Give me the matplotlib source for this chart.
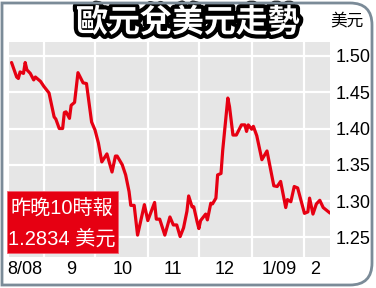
import datetime as dt
import matplotlib
matplotlib.use('Agg')
import matplotlib.pyplot as plt
import matplotlib.patheffects as pe
from matplotlib import font_manager
from matplotlib.path import Path
from matplotlib.patches import PathPatch, Rectangle

# EUR/USD
dates = ['2008-08-13', '2008-08-16', '2008-08-17', '2008-08-18', '2008-08-20', '2008-08-21',
         '2008-08-22', '2008-08-24', '2008-08-26', '2008-08-27', '2008-08-30', '2008-09-01',
         '2008-09-04', '2008-09-07', '2008-09-08', '2008-09-10', '2008-09-12', '2008-09-13',
         '2008-09-14', '2008-09-16', '2008-09-17', '2008-09-19', '2008-09-21', '2008-09-24',
         '2008-09-26', '2008-09-29', '2008-10-01', '2008-10-03', '2008-10-05', '2008-10-08',
         '2008-10-11', '2008-10-13', '2008-10-14', '2008-10-17', '2008-10-19', '2008-10-21',
         '2008-10-22', '2008-10-24', '2008-10-26', '2008-10-30', '2008-11-01', '2008-11-05',
         '2008-11-06', '2008-11-08', '2008-11-11', '2008-11-14', '2008-11-16', '2008-11-18',
         '2008-11-20', '2008-11-22', '2008-11-24', '2008-11-25', '2008-11-27', '2008-11-28',
         '2008-11-30', '2008-12-01', '2008-12-02', '2008-12-05', '2008-12-06', '2008-12-08',
         '2008-12-09', '2008-12-11', '2008-12-12', '2008-12-14', '2008-12-15', '2008-12-18',
         '2008-12-19', '2008-12-21', '2008-12-23', '2008-12-26', '2008-12-28', '2008-12-29',
         '2008-12-30', '2009-01-01', '2009-01-02', '2009-01-04', '2009-01-07', '2009-01-10',
         '2009-01-14', '2009-01-16', '2009-01-18', '2009-01-19', '2009-01-21', '2009-01-22',
         '2009-01-24', '2009-01-26', '2009-01-28', '2009-02-01', '2009-02-03', '2009-02-04',
         '2009-02-06', '2009-02-08', '2009-02-10', '2009-02-12', '2009-02-16']
rates = [1.491, 1.471, 1.469, 1.478, 1.476, 1.491,
         1.481, 1.476, 1.467, 1.471, 1.465, 1.458,
         1.449, 1.416, 1.413, 1.400, 1.400, 1.422,
         1.423, 1.414, 1.432, 1.436, 1.477, 1.463,
         1.462, 1.409, 1.398, 1.380, 1.354, 1.365,
         1.340, 1.362, 1.362, 1.350, 1.336, 1.313,
         1.294, 1.294, 1.253, 1.295, 1.273, 1.298,
         1.275, 1.275, 1.253, 1.278, 1.267, 1.267,
         1.251, 1.263, 1.286, 1.307, 1.292, 1.292,
         1.271, 1.262, 1.273, 1.282, 1.274, 1.297,
         1.296, 1.304, 1.336, 1.338, 1.370, 1.442,
         1.430, 1.391, 1.391, 1.405, 1.405, 1.396,
         1.405, 1.399, 1.403, 1.390, 1.357, 1.369,
         1.321, 1.320, 1.327, 1.315, 1.291, 1.302,
         1.299, 1.320, 1.318, 1.283, 1.285, 1.304,
         1.282, 1.296, 1.301, 1.291, 1.2834]

month_starts = ['2008-09-01', '2008-10-01', '2008-11-01', '2008-12-01', '2009-01-01', '2009-02-01']
label_dates = ['2008-08-21', '2008-09-17', '2008-10-17', '2008-11-16', '2008-12-16', '2009-01-17', '2009-02-07']
month_labels = ['8/08', '9', '10', '11', '12', '1/09', '2']
yticks = [1.25, 1.30, 1.35, 1.40, 1.45, 1.50]
ytick_labels = ['1.25', '1.30', '1.35', '1.40', '1.45', '1.50']

title = '歐元兌美元走勢'
unit = '美元'
note_lines = ['昨晚10時報', '1.2834 美元']

W, H = 376, 288
installed = {f.name for f in font_manager.fontManager.ttflist}
narrow = 'Liberation Sans Narrow' if 'Liberation Sans Narrow' in installed else 'Liberation Sans'
num_font = [narrow, 'Noto Sans CJK TC', 'DejaVu Sans']
cjk_font = ['Noto Sans CJK TC', 'DejaVu Sans']


def d(s):
    return dt.datetime.strptime(s, '%Y-%m-%d')


def fx(x):
    return x / W


def fy(y):
    return 1 - y / H


fig = plt.figure(figsize=(W / 100, H / 100), dpi=100)
fig.patch.set_facecolor('white')

ax = fig.add_axes([fx(9), fy(257), (330 - 9) / W, (257 - 42) / H])
ax.set_facecolor('#e6e6e6')
for s in ax.spines.values():
    s.set_visible(False)

ax.plot([d(s) for s in dates], rates, color='#e60012', lw=2.3,
        solid_joinstyle='round', solid_capstyle='round', zorder=3)

ax.set_xlim(dt.datetime(2008, 8, 11, 12), dt.datetime(2009, 2, 16))
ax.set_ylim(1.2228, 1.5193)

ax.set_xticks([d(s) for s in month_starts])
ax.set_xticklabels([])
ax.set_xticks([d(s) for s in label_dates], minor=True)
ax.set_xticklabels(month_labels, minor=True, family=num_font, fontsize=13)
ax.tick_params(axis='x', which='both', length=0, pad=3)
ax.xaxis.grid(True, which='major', color='white', lw=1.6)

ax.yaxis.tick_right()
ax.set_yticks(yticks)
ax.set_yticklabels(ytick_labels, family=num_font, fontsize=13)
ax.tick_params(axis='y', length=0, pad=4)
ax.yaxis.grid(True, color='white', lw=1.6)
ax.set_axisbelow(True)

# red note box
fig.patches.append(Rectangle((fx(7), fy(253)), (118 - 7) / W, (253 - 191) / H,
                             transform=fig.transFigure, facecolor='#e60012',
                             edgecolor='#f06070', lw=0.6, zorder=5))
fig.text(fx(62), fy(209), note_lines[0], color='white', fontsize=14.5,
         family=num_font, ha='center', va='center', zorder=6)
fig.text(fx(62), fy(239), note_lines[1], color='white', fontsize=14.5,
         family=num_font, ha='center', va='center', zorder=6)

# title and unit
fig.text(fx(188), fy(23), title, color='white', fontsize=23, weight='bold',
         family=cjk_font, ha='center', va='center',
         path_effects=[pe.withStroke(linewidth=6, foreground='black')])
fig.text(fx(347), fy(22), unit, color='black', fontsize=12,
         family=cjk_font, ha='center', va='center')

# frame with rounded right corners
r = 22
verts = [(2, 3), (372 - r, 3), (372, 3), (372, 3 + r), (372, 285 - r), (372, 285),
         (372 - r, 285), (2, 285), (2, 3)]
codes = [Path.MOVETO, Path.LINETO, Path.CURVE3, Path.CURVE3, Path.LINETO, Path.CURVE3,
         Path.CURVE3, Path.LINETO, Path.CLOSEPOLY]
frame = Path([(fx(x), fy(y)) for x, y in verts], codes)
fig.patches.append(PathPatch(frame, transform=fig.transFigure, facecolor='none',
                             edgecolor='#7b8b98', lw=2, zorder=10))

fig.savefig('out.png', dpi=100)
